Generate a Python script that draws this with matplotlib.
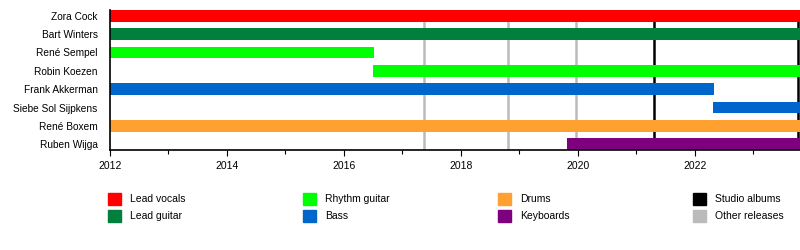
import matplotlib
matplotlib.use('Agg')
from matplotlib import pyplot
from matplotlib.patches import Rectangle
import matplotlib.ticker as ticker

pyplot.rcParams['font.family'] = ['Liberation Sans', 'DejaVu Sans']

# Members and their periods (start, end, role)
members = ['Zora Cock', 'Bart Winters', 'René Sempel', 'Robin Koezen',
           'Frank Akkerman', 'Siebe Sol Sijpkens', 'René Boxem', 'Ruben Wijga']
starts = [2012.0, 2012.0, 2012.0, 2016.5, 2012.0, 2022.32, 2012.0, 2019.81]
ends = [2023.8, 2023.8, 2016.52, 2023.8, 2022.33, 2023.8, 2023.8, 2023.8]
roles = ['Lead vocals', 'Lead guitar', 'Rhythm guitar', 'Rhythm guitar',
         'Bass', 'Bass', 'Drums', 'Keyboards']

role_names = ['Lead vocals', 'Lead guitar', 'Rhythm guitar', 'Bass',
              'Drums', 'Keyboards', 'Studio albums', 'Other releases']
role_colors = ['#ff0000', '#007f3d', '#00ff00', '#0066cc',
               '#ffa131', '#7f007f', '#000000', '#bbbbbb']
colors = dict(zip(role_names, role_colors))

studio_albums = [2021.31, 2023.77]
other_releases = [2017.37, 2018.81, 2019.97]

fig = pyplot.figure(figsize=(8, 2.5), dpi=100)
ax = fig.add_axes([0.1375, 0.4, 0.8625, 0.56])

# Release lines behind the bars
for x in other_releases:
    ax.axvline(x, color=colors['Other releases'], linewidth=1.8, zorder=1)
for x in studio_albums:
    ax.axvline(x, color=colors['Studio albums'], linewidth=1.8, zorder=1)

h = 0.63
for i, (s, e, r) in enumerate(zip(starts, ends, roles)):
    ax.barh(i, e - s, left=s, height=h, color=colors[r], zorder=2)

ax.set_ylim(len(members) - 1 + h / 2, -h / 2)
ax.set_xlim(2012, 2023.8)
ax.set_yticks(range(len(members)))
ax.set_yticklabels(members, fontsize=7.3)
ax.tick_params(axis='y', length=0, pad=9)

ax.xaxis.set_major_locator(ticker.MultipleLocator(2))
ax.xaxis.set_minor_locator(ticker.MultipleLocator(1))
ax.xaxis.set_major_formatter(ticker.FormatStrFormatter('%d'))
ax.tick_params(axis='x', which='major', length=4, width=0.8, labelsize=7.5, pad=4)
ax.tick_params(axis='x', which='minor', length=3, width=0.8)

for side in ['top', 'right']:
    ax.spines[side].set_visible(False)
for side in ['left', 'bottom']:
    ax.spines[side].set_linewidth(1.2)

# Legend, four columns of two
col_x = [108, 303, 498, 693]
row_y = [199, 216]
for k, (name, c) in enumerate(zip(role_names, role_colors)):
    px = col_x[k // 2]
    py = row_y[k % 2]
    fig.patches.append(Rectangle((px / 800, 1 - (py + 6) / 250), 13 / 800, 12 / 250,
                                 transform=fig.transFigure, color=c))
    fig.text((px + 22) / 800, 1 - py / 250, name, fontsize=7.5, va='center')

fig.savefig('out.png')
